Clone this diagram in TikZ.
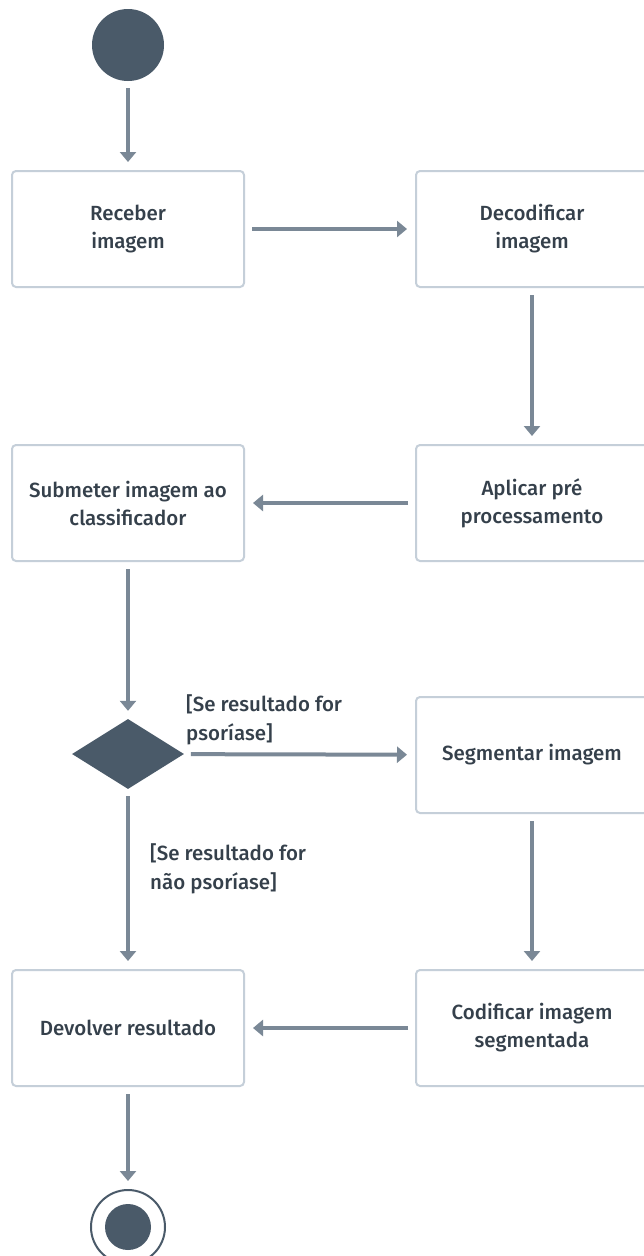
\documentclass[tikz,border=0pt]{standalone}
\usepackage{fontspec}
\setmainfont{Fira Sans}[UprightFont=* Medium]
\usetikzlibrary{arrows.meta,shapes.geometric}
\definecolor{ink}{HTML}{35404B}
\definecolor{solid}{HTML}{4A5A69}
\definecolor{flow}{HTML}{7A8896}
\definecolor{frame}{HTML}{C5CFD9}
\tikzset{
  activity/.style={draw=frame, line width=2pt, rounded corners=4pt, fill=white,
    minimum width=232pt, minimum height=116pt, align=center, text=ink,
    font=\fontsize{20.5}{28}\selectfont},
  guard/.style={align=left, text=ink, font=\fontsize{20.5}{29}\selectfont, inner sep=0pt},
  flowline/.style={draw=flow, line width=4pt, -{Triangle[width=16pt,length=10pt]},
    shorten <=7pt, shorten >=8pt},
}
\begin{document}
\begin{tikzpicture}[x=1pt,y=-1pt]
\useasboundingbox (0,0) rectangle (644,1256);
\clip (0,0) rectangle (644,1256);
\fill[white] (0,0) rectangle (644,1256);

% initial and final states
\node[circle, fill=solid, minimum size=72pt, inner sep=0pt] (start) at (128,45) {};
\node[circle, draw=solid, line width=2pt, minimum size=74pt, inner sep=0pt] (stop) at (128,1227) {};
\node[circle, fill=solid, minimum size=46pt, inner sep=0pt] at (stop) {};

% actions
\node[activity] (receive) at (128,229) {Receber\\imagem};
\node[activity] (decode) at (532,229) {Decodificar\\imagem};
\node[activity] (prep) at (532,503) {Aplicar pré\\processamento};
\node[activity] (classify) at (128,503) {Submeter imagem ao\\classificador};
\node[activity] (segment) at (532,755) {Segmentar imagem};
\node[activity] (encode) at (532,1028) {Codificar imagem\\segmentada};
\node[activity] (reply) at (128,1028) {Devolver resultado};

% decision
\node[diamond, fill=solid, minimum width=112pt, minimum height=70pt, inner sep=0pt] (choice) at (128,754) {};

% flows
\draw[flowline] (start) -- (receive);
\draw[flowline] (receive) -- (decode);
\draw[flowline] (decode) -- (prep);
\draw[flowline] (prep) -- (classify);
\draw[flowline] (classify) -- (choice);
\draw[flowline] (choice) -- (segment);
\draw[flowline] (choice) -- (reply);
\draw[flowline] (segment) -- (encode);
\draw[flowline] (encode) -- (reply);
\draw[flowline] (reply) -- (stop);

% guards
\node[guard, anchor=north west] (g1) at (186,694) {[Se resultado for\\psoríase]};
\node[guard, anchor=north west] (g2) at (150,843) {[Se resultado for\\não psoríase]};
\end{tikzpicture}
\end{document}
